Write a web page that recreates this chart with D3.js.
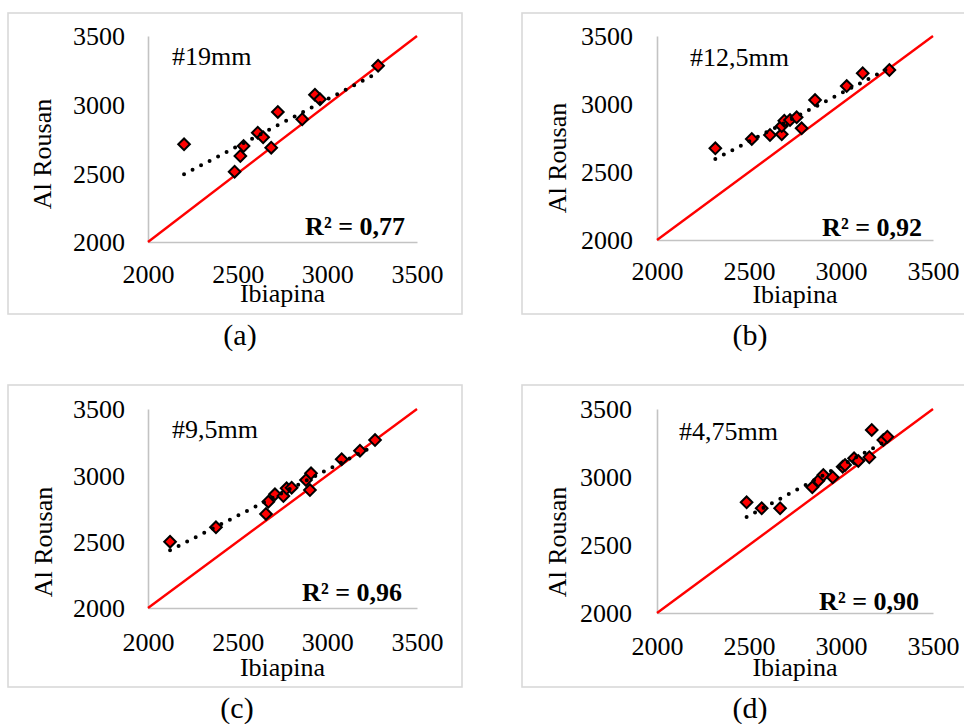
<!DOCTYPE html>
<html>
<head>
<meta charset="utf-8">
<script src="https://cdn.jsdelivr.net/npm/d3@7"></script>
<style>
  html, body { margin: 0; padding: 0; background: #ffffff; }
  svg { display: block; font-family: "Liberation Serif", "Times New Roman", serif; }
</style>
</head>
<body>
<svg id="fig" width="964" height="724"></svg>
<script>
// ---- data -------------------------------------------------------------
const axisTicks = [2000, 2500, 3000, 3500];
const panelTags = ["(a)", "(b)", "(c)", "(d)"];
const sieveNames = ["#19mm", "#12,5mm", "#9,5mm", "#4,75mm"];
const r2Values = ["0,77", "0,92", "0,96", "0,90"];
const xTitle = "Ibiapina";
const yTitle = "Al Rousan";

// #19mm
const ibiapina19 = [2201, 2483, 2515, 2533, 2612, 2642, 2687, 2724, 2860, 2931, 2959, 3283];
const alRousan19 = [2711, 2512, 2626, 2699, 2796, 2762, 2687, 2947, 2894, 3073, 3039, 3284];

// #12,5mm
const ibiapina125 = [2317, 2515, 2614, 2678, 2678, 2692, 2723, 2759, 2786, 2859, 3031, 3118, 3263];
const alRousan125 = [2674, 2743, 2772, 2777, 2838, 2877, 2882, 2902, 2821, 3029, 3132, 3226, 3250];

// #9,5mm
const ibiapina95 = [2123, 2379, 2658, 2671, 2708, 2755, 2773, 2801, 2881, 2903, 2909, 3080, 3182, 3266];
const alRousan95 = [2500, 2608, 2709, 2801, 2857, 2844, 2902, 2907, 2965, 2889, 3015, 3121, 3186, 3266];

// #4,75mm
const ibiapina475 = [2487, 2569, 2669, 2844, 2877, 2904, 2955, 3009, 3022, 3071, 3094, 3154, 3167, 3230, 3252];
const alRousan475 = [2814, 2770, 2770, 2924, 2973, 3015, 2998, 3076, 3088, 3137, 3118, 3145, 3346, 3272, 3296];

const seriesX = [ibiapina19, ibiapina125, ibiapina95, ibiapina475];
const seriesY = [alRousan19, alRousan125, alRousan95, alRousan475];

// ---- layout of the four chart boxes ---------------------------------
const layout = [
  { frame: [8, 13, 454, 301],  plot: { l: 148, r: 417, t: 36,  b: 242 }, xPad: 22.5, yPad: 23,
    xTitleY: 302, yTitlePos: [51, 154],  note: [172, 65],  r2: [405, 235], tag: [240, 345] },
  { frame: [522, 13, 460, 301], plot: { l: 657, r: 933, t: 36,  b: 240 }, xPad: 21.5, yPad: 24,
    xTitleY: 303, yTitlePos: [566, 158], note: [690, 66],  r2: [922, 236], tag: [750, 345] },
  { frame: [8, 385, 454, 302],  plot: { l: 148, r: 417, t: 409, b: 608 }, xPad: 24.5, yPad: 23,
    xTitleY: 676, yTitlePos: [52, 542],  note: [172, 438], r2: [402, 601], tag: [237, 718] },
  { frame: [522, 385, 460, 302], plot: { l: 657, r: 933, t: 409, b: 613 }, xPad: 23.5, yPad: 25,
    xTitleY: 676, yTitlePos: [566, 542], note: [679, 440], r2: [919, 610], tag: [750, 718] }
];

const svg = d3.select("#fig");
const FONT = 26;

// least-squares line through the measured pairs
function linearFit(xs, ys) {
  const mx = d3.mean(xs), my = d3.mean(ys);
  let sxy = 0, sxx = 0;
  xs.forEach((x, i) => { sxy += (x - mx) * (ys[i] - my); sxx += (x - mx) * (x - mx); });
  const slope = sxy / sxx;
  return x => my + slope * (x - mx);
}

layout.forEach((L, i) => {
  const g = svg.append("g");
  const p = L.plot;
  const x = d3.scaleLinear().domain([2000, 3500]).range([p.l, p.r]);
  const y = d3.scaleLinear().domain([2000, 3500]).range([p.b, p.t]);

  // chart frame
  g.append("rect")
    .attr("x", L.frame[0]).attr("y", L.frame[1])
    .attr("width", L.frame[2]).attr("height", L.frame[3])
    .attr("fill", "none").attr("stroke", "#d9d9d9").attr("stroke-width", 1.6);

  // axes
  const ax = g.append("g").attr("transform", `translate(0,${p.b})`)
    .call(d3.axisBottom(x).tickValues(axisTicks).tickSize(0).tickPadding(L.xPad).tickFormat(d3.format("d")));
  const ay = g.append("g").attr("transform", `translate(${p.l},0)`)
    .call(d3.axisLeft(y).tickValues(axisTicks).tickSize(0).tickPadding(L.yPad).tickFormat(d3.format("d")));
  [ax, ay].forEach(a => {
    a.select(".domain").attr("stroke", "#c3c3c3").attr("stroke-width", 1.6);
    a.selectAll("text").attr("font-size", FONT).attr("fill", "#000")
      .attr("font-family", "'Liberation Serif','Times New Roman',serif");
  });
  ay.selectAll("text").attr("dy", "0.34em");

  // axis titles
  g.append("text").attr("x", (p.l + p.r) / 2).attr("y", L.xTitleY)
    .attr("text-anchor", "middle").attr("font-size", FONT).text(xTitle);
  g.append("text")
    .attr("transform", `translate(${L.yTitlePos[0]},${L.yTitlePos[1]}) rotate(-90)`)
    .attr("text-anchor", "middle").attr("font-size", FONT).text(yTitle);

  // line of equality
  g.append("line")
    .attr("x1", x(2000)).attr("y1", y(2000)).attr("x2", x(3500)).attr("y2", y(3500))
    .attr("stroke", "#ff0000").attr("stroke-width", 2.4);

  // measured pairs
  const xs = seriesX[i], ys = seriesY[i];
  const pts = xs.map((v, k) => [v, ys[k]]);
  const diamond = d3.symbol(d3.symbolSquare, 68);
  g.append("g").selectAll("path").data(pts).join("path")
    .attr("d", diamond)
    .attr("transform", d => `translate(${x(d[0])},${y(d[1])}) rotate(45)`)
    .attr("fill", "#ff0000").attr("stroke", "#000").attr("stroke-width", 2);

  // dotted linear trend line
  const fit = linearFit(xs, ys);
  const [x0, x1] = d3.extent(xs);
  g.append("path")
    .datum([[x0, fit(x0)], [x1, fit(x1)]])
    .attr("d", d3.line().x(d => x(d[0])).y(d => y(d[1])))
    .attr("fill", "none").attr("stroke", "#000").attr("stroke-width", 4)
    .attr("stroke-linecap", "round").attr("stroke-dasharray", "0 9.6");

  // annotations
  g.append("text").attr("x", L.note[0]).attr("y", L.note[1])
    .attr("font-size", FONT).text(sieveNames[i]);
  g.append("text").attr("x", L.r2[0]).attr("y", L.r2[1])
    .attr("text-anchor", "end").attr("font-size", FONT).attr("font-weight", "bold")
    .text(`R² = ${r2Values[i]}`);
  g.append("text").attr("x", L.tag[0]).attr("y", L.tag[1])
    .attr("text-anchor", "middle").attr("font-size", 30).text(panelTags[i]);
});
</script>
</body>
</html>
